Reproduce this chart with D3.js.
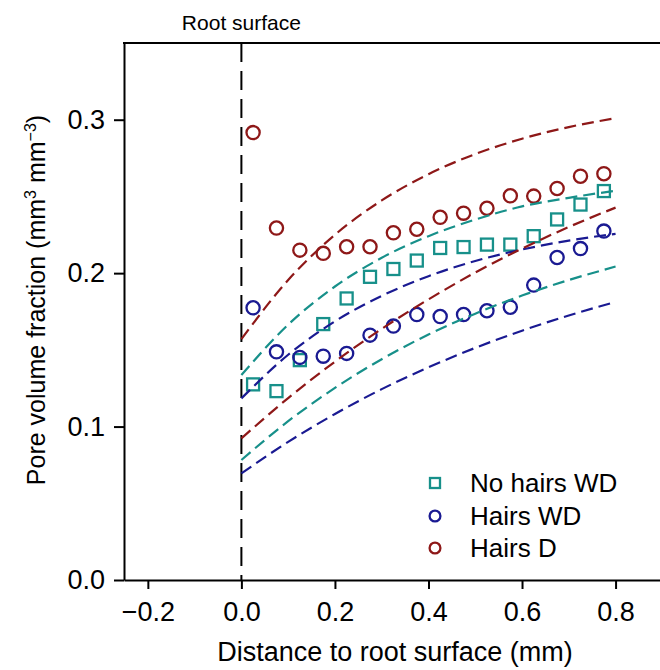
<!DOCTYPE html>
<html><head><meta charset="utf-8">
<script src="https://cdn.jsdelivr.net/npm/d3@7"></script>
<style>
body{margin:0;background:#fff;}
svg{display:block;font-family:"Liberation Sans",Arial,Helvetica,sans-serif;}
</style>
</head><body>
<svg id="chart" width="660" height="670"></svg>
<script>
// ---- data ----
const distances = [0.025, 0.075, 0.125, 0.175, 0.225, 0.275, 0.325, 0.375, 0.425, 0.475, 0.525, 0.575, 0.625, 0.675, 0.725, 0.775];
const noHairsWD = [0.1275, 0.1231, 0.1433, 0.1668, 0.1835, 0.1976, 0.2027, 0.2082, 0.2164, 0.2170, 0.2186, 0.2186, 0.2241, 0.2350, 0.2447, 0.2535];
const hairsWD   = [0.1774, 0.1487, 0.1451, 0.1459, 0.1477, 0.1596, 0.1655, 0.1730, 0.1717, 0.1730, 0.1755, 0.1778, 0.1922, 0.2102, 0.2160, 0.2274];
const hairsD    = [0.2916, 0.2294, 0.2150, 0.2129, 0.2172, 0.2172, 0.2263, 0.2286, 0.2364, 0.2391, 0.2423, 0.2504, 0.2502, 0.2552, 0.2632, 0.2648];

const curveX          = [0, 0.1, 0.2, 0.3, 0.4, 0.5, 0.6, 0.7, 0.8];
const hairsDUpper     = [0.1570, 0.1955, 0.2250, 0.2474, 0.2645, 0.2776, 0.2876, 0.2952, 0.3010];
const noHairsWDUpper  = [0.1336, 0.1664, 0.1913, 0.2100, 0.2241, 0.2349, 0.2435, 0.2491, 0.2537];
const hairsWDUpper    = [0.1184, 0.1468, 0.1686, 0.1852, 0.1980, 0.2079, 0.2154, 0.2212, 0.2256];
const hairsDLower     = [0.0923, 0.1186, 0.1423, 0.1637, 0.1829, 0.2004, 0.2160, 0.2301, 0.2427];
const noHairsWDLower  = [0.0782, 0.1035, 0.1252, 0.1439, 0.1600, 0.1736, 0.1854, 0.1955, 0.2043];
const hairsWDLower    = [0.0695, 0.0900, 0.1082, 0.1244, 0.1386, 0.1513, 0.1625, 0.1724, 0.1812];

const xTicks = [-0.2, 0.0, 0.2, 0.4, 0.6, 0.8];
const yTicks = [0.0, 0.1, 0.2, 0.3];
const seriesNames = ["No hairs WD", "Hairs WD", "Hairs D"];
const rootLabel = "Root surface";

// ---- styling ----
const colTeal = "#17908a", colBlue = "#1a1a92", colRed = "#8e1818";

const svg = d3.select("#chart");
const x = d3.scaleLinear().domain([-0.251, 0.895]).range([124, 660]);
const y = d3.scaleLinear().domain([0, 0.35]).range([580, 43]);
const fmt = d => (d < 0 ? "\u2212" : "") + Math.abs(d).toFixed(1);

// axes
const gx = svg.append("g").attr("transform", `translate(0,${y(0)})`)
  .call(d3.axisBottom(x).tickValues(xTicks).tickSize(9).tickSizeOuter(0).tickPadding(13).tickFormat(fmt));
const gy = svg.append("g").attr("transform", `translate(${x.range()[0]},0)`)
  .call(d3.axisLeft(y).tickValues(yTicks).tickSize(10).tickSizeOuter(0).tickPadding(9).tickFormat(fmt));
[gx, gy].forEach(g => {
  g.select(".domain").attr("stroke", "#000").attr("stroke-width", 2);
  g.selectAll(".tick line").attr("stroke", "#000").attr("stroke-width", 2);
  g.selectAll(".tick text").attr("fill", "#000").style("font-size", "27px").style("font-family", "'Liberation Sans',Arial,sans-serif");
});
// top frame line
svg.append("line").attr("x1", x.range()[0] - 1).attr("x2", x.range()[1])
  .attr("y1", y(0.35)).attr("y2", y(0.35)).attr("stroke", "#000").attr("stroke-width", 2);

// root surface line
svg.append("line").attr("x1", x(0)).attr("x2", x(0)).attr("y1", y(0.35)).attr("y2", y(0))
  .attr("stroke", "#000").attr("stroke-width", 2).attr("stroke-dasharray", "19,9");
svg.append("text").attr("x", x(0)).attr("y", 30).attr("text-anchor", "middle")
  .style("font-size", "21px").text(rootLabel);

// points
const ptsTeal = svg.append("g");
ptsTeal.selectAll("rect").data(distances.map((d, i) => [d, noHairsWD[i]])).join("rect")
  .attr("x", d => x(d[0]) - 6).attr("y", d => y(d[1]) - 6).attr("width", 12).attr("height", 12)
  .attr("fill", "none").attr("stroke", colTeal).attr("stroke-width", 2.3);
[[hairsWD, colBlue], [hairsD, colRed]].forEach(([vals, col]) => {
  svg.append("g").selectAll("circle").data(distances.map((d, i) => [d, vals[i]])).join("circle")
    .attr("cx", d => x(d[0])).attr("cy", d => y(d[1])).attr("r", 6.6)
    .attr("fill", "none").attr("stroke", col).attr("stroke-width", 2.3);
});

// fitted curves
const line = d3.line().x(d => x(d[0])).y(d => y(d[1])).curve(d3.curveMonotoneX);
[[hairsDUpper, colRed], [noHairsWDUpper, colTeal], [hairsWDUpper, colBlue],
 [hairsDLower, colRed], [noHairsWDLower, colTeal], [hairsWDLower, colBlue]].forEach(([vals, col]) => {
  svg.append("path").datum(curveX.map((d, i) => [d, vals[i]])).attr("d", line)
    .attr("fill", "none").attr("stroke", col).attr("stroke-width", 2.2).attr("stroke-dasharray", "12,6");
});

// legend
const legY = [483, 516, 548];
const lg = svg.append("g");
lg.append("rect").attr("x", 435 - 5).attr("y", legY[0] - 5).attr("width", 10).attr("height", 10)
  .attr("fill", "none").attr("stroke", colTeal).attr("stroke-width", 2.3);
lg.append("circle").attr("cx", 435).attr("cy", legY[1]).attr("r", 5.4).attr("fill", "none").attr("stroke", colBlue).attr("stroke-width", 2.3);
lg.append("circle").attr("cx", 435).attr("cy", legY[2]).attr("r", 5.4).attr("fill", "none").attr("stroke", colRed).attr("stroke-width", 2.3);
seriesNames.forEach((n, i) => {
  lg.append("text").attr("x", 470).attr("y", legY[i] + 9).style("font-size", "26px").text(n);
});

// axis titles
svg.append("text").attr("x", 395).attr("y", 661).attr("text-anchor", "middle")
  .style("font-size", "27px").text("Distance to root surface (mm)");
const yt = svg.append("text").attr("transform", "translate(45,300) rotate(-90)").attr("text-anchor", "middle")
  .style("font-size", "25px");
yt.append("tspan").text("Pore volume fraction (mm");
yt.append("tspan").attr("dy", -9).style("font-size", "16px").text("3");
yt.append("tspan").attr("dy", 9).text(" mm");
yt.append("tspan").attr("dy", -9).style("font-size", "16px").text("\u22123");
yt.append("tspan").attr("dy", 9).text(")");
</script>
</body></html>
